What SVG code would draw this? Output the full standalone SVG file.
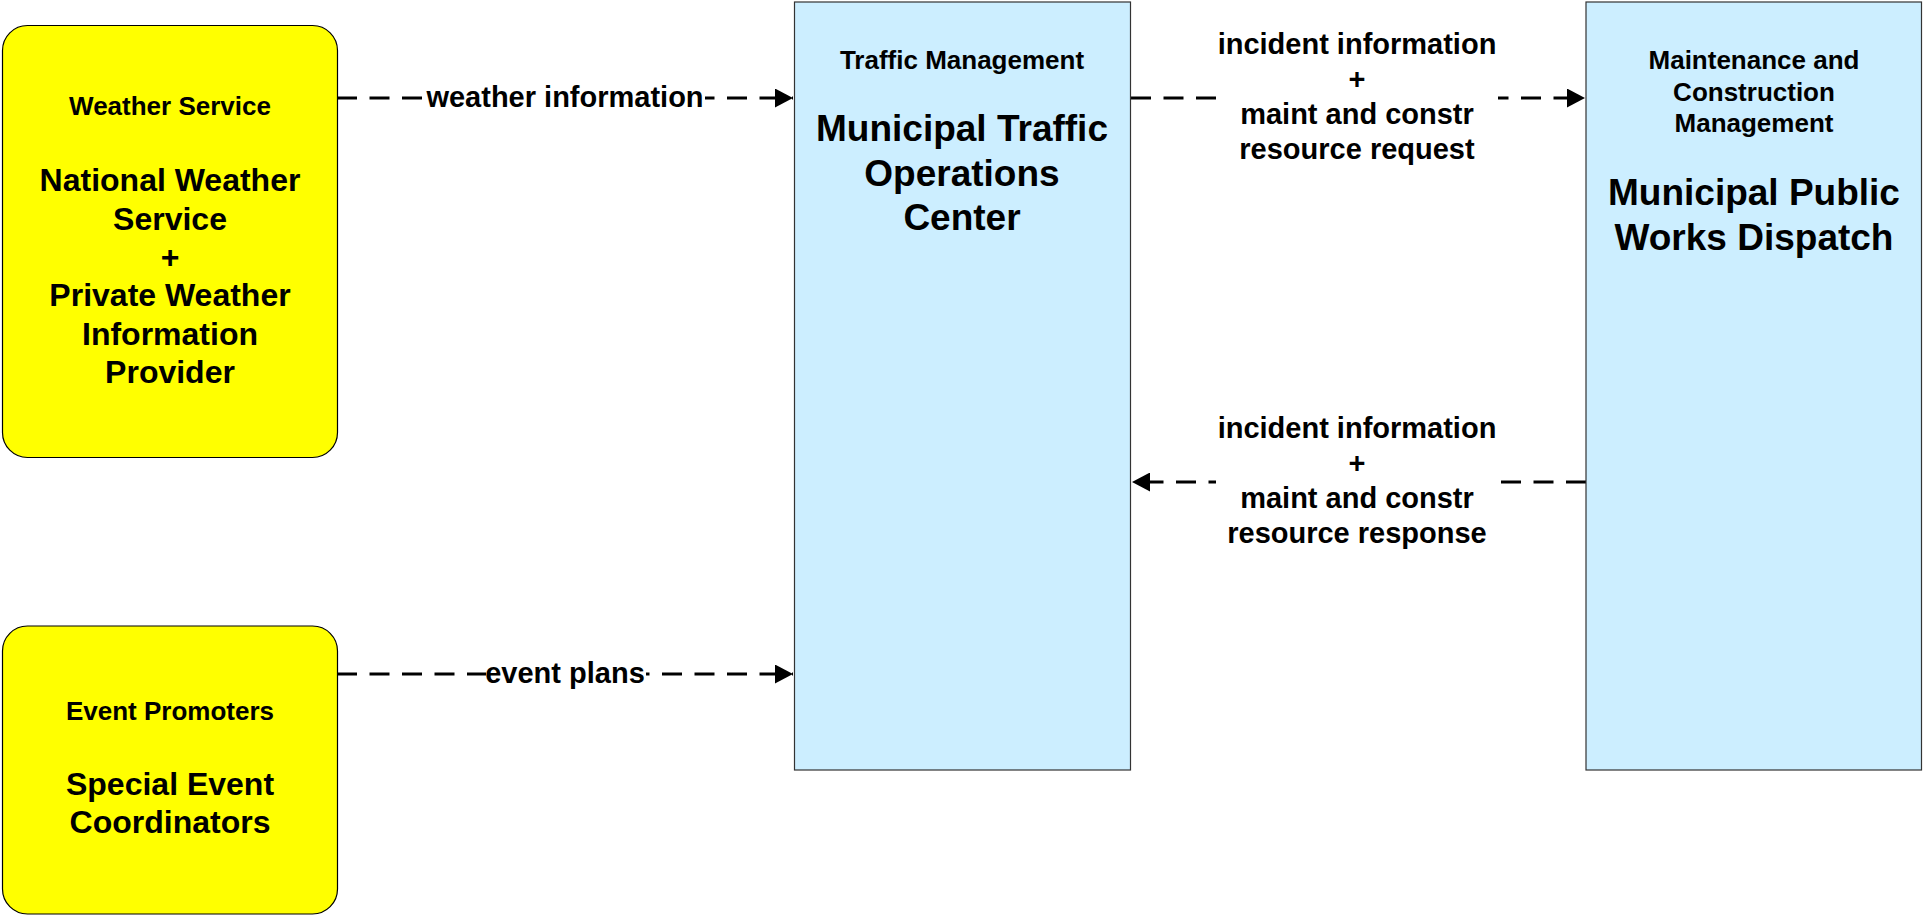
<svg xmlns="http://www.w3.org/2000/svg" width="1923" height="916" viewBox="0 0 1923 916">
<style>
text{font-family:"Liberation Sans",Arial,sans-serif;font-weight:bold;fill:#000;text-anchor:middle}
.hdr{font-size:26px}
.big{font-size:32px}
.big2{font-size:37px}
.lbl{font-size:29px}
.term{fill:#ffff00;stroke:#000;stroke-width:1.2}
.ent{fill:#cceeff;stroke:#333;stroke-width:1.2}
.flow{fill:none;stroke:#000;stroke-width:3;stroke-dasharray:20 12.5}
.bg{fill:#fff}
</style>
<defs>
<marker id="arr" markerWidth="18" markerHeight="19" refX="18" refY="9.5" orient="auto" markerUnits="userSpaceOnUse">
<path d="M0,0 L18,9.5 L0,19 Z" fill="#000"/>
</marker>
</defs>
<g id="connectors">
<path class="flow" d="M337,98 L793,98" marker-end="url(#arr)"/>
<path class="flow" d="M337,674 L793,674" marker-end="url(#arr)"/>
<path class="flow" d="M1131,98 L1585,98" marker-end="url(#arr)"/>
<path class="flow" d="M1586,482 L1132,482" marker-end="url(#arr)"/>
<rect class="bg" x="425" y="84" width="280" height="30"/>
<text class="lbl" x="565" y="107">weather information</text>
<rect class="bg" x="486" y="660" width="160" height="30"/>
<text class="lbl" x="565" y="683">event plans</text>
<rect class="bg" x="1216" y="30" width="282" height="136"/>
<text class="lbl" x="1357" y="54">incident information</text>
<text class="lbl" x="1357" y="89">+</text>
<text class="lbl" x="1357" y="124">maint and constr</text>
<text class="lbl" x="1357" y="159">resource request</text>
<rect class="bg" x="1216" y="414" width="282" height="136"/>
<text class="lbl" x="1357" y="438">incident information</text>
<text class="lbl" x="1357" y="473">+</text>
<text class="lbl" x="1357" y="508">maint and constr</text>
<text class="lbl" x="1357" y="543">resource response</text>
</g>
<g id="weather">
<rect class="term" x="2.5" y="25.5" width="335" height="432" rx="25" ry="25"/>
<text class="hdr" x="170" y="115">Weather Service</text>
<text class="big" x="170" y="191">National Weather</text>
<text class="big" x="170" y="229.5">Service</text>
<text class="big" x="170" y="268">+</text>
<text class="big" x="170" y="306">Private Weather</text>
<text class="big" x="170" y="345">Information</text>
<text class="big" x="170" y="383">Provider</text>
</g>
<g id="event">
<rect class="term" x="2.5" y="626" width="335" height="288" rx="25" ry="25"/>
<text class="hdr" x="170" y="720">Event Promoters</text>
<text class="big" x="170" y="795">Special Event</text>
<text class="big" x="170" y="833">Coordinators</text>
</g>
<g id="tmc">
<rect class="ent" x="794.5" y="2" width="336" height="768"/>
<text class="hdr" x="962" y="68.5">Traffic Management</text>
<text class="big2" x="962" y="141">Municipal Traffic</text>
<text class="big2" x="962" y="185.5">Operations</text>
<text class="big2" x="962" y="230">Center</text>
</g>
<g id="publicworks">
<rect class="ent" x="1586" y="2" width="335.5" height="768"/>
<text class="hdr" x="1754" y="68.5">Maintenance and</text>
<text class="hdr" x="1754" y="100.5">Construction</text>
<text class="hdr" x="1754" y="132">Management</text>
<text class="big2" x="1754" y="205">Municipal Public</text>
<text class="big2" x="1754" y="250">Works Dispatch</text>
</g>
</svg>
